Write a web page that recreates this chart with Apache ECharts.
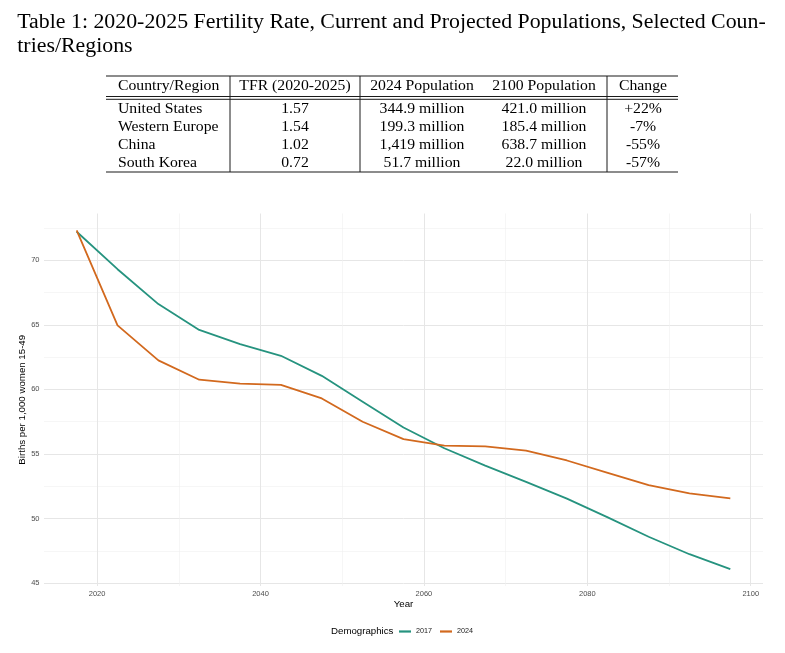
<!DOCTYPE html>
<html><head><meta charset="utf-8">
<script src="https://cdn.jsdelivr.net/npm/echarts@6/dist/echarts.min.js"></script>
<style>html,body{margin:0;padding:0;background:#fff}#c{width:785px;height:653px}</style>
</head><body><div id="c"></div>
<script>
// ---- data ----
const titleLines = ['Table 1: 2020-2025 Fertility Rate, Current and Projected Populations, Selected Coun-', 'tries/Regions'];
const tableHeader = ['Country/Region', 'TFR (2020-2025)', '2024 Population', '2100 Population', 'Change'];
const regions = ['United States', 'Western Europe', 'China', 'South Korea'];
const tfr = ['1.57', '1.54', '1.02', '0.72'];
const pop2024 = ['344.9 million', '199.3 million', '1,419 million', '51.7 million'];
const pop2100 = ['421.0 million', '185.4 million', '638.7 million', '22.0 million'];
const change = ['+22%', '-7%', '-55%', '-57%'];

const years = [2017.5, 2022.5, 2027.5, 2032.5, 2037.5, 2042.5, 2047.5, 2052.5, 2057.5,
               2062.5, 2067.5, 2072.5, 2077.5, 2082.5, 2087.5, 2092.5, 2097.5];
const proj2017 = [72.2, 69.3, 66.6, 64.6, 63.5, 62.6, 61.05, 59.05, 57.05,
                  55.45, 54.1, 52.85, 51.55, 50.1, 48.6, 47.25, 46.1];
const proj2024 = [72.3, 64.95, 62.25, 60.75, 60.45, 60.35, 59.3, 57.5, 56.15,
                  55.65, 55.6, 55.27, 54.5, 53.55, 52.6, 51.96, 51.57];
const seriesNames = ['2017', '2024'];
const legendTitle = 'Demographics';
const xName = 'Year';
const yName = 'Births per 1,000 women 15-49';

// ---- layout / style ----
const SERIF = '"Liberation Serif", "Times New Roman", serif';
const SANS = '"Liberation Sans", Arial, sans-serif';
const colors = ['#26937F', '#D2691E'];
const ctx = document.createElement('canvas').getContext('2d');
function tw(s, size, fam) { ctx.font = size + 'px ' + fam; return ctx.measureText(s).width; }

const titleSize = 20;
const titleScale = 748.4 / tw(titleLines[0], titleSize, SERIF);
const tabSize = 13.6;
const tabScale = 84.3 / tw('United States', tabSize, SERIF);

function txt(s, x, y, size, fam, align, scale, fill) {
  return {
    type: 'text', x: x, y: y, scaleX: scale || 1, silent: true,
    style: {
      text: s, fontSize: size, fontFamily: fam, fill: fill || '#000',
      textAlign: align, textVerticalAlign: 'middle', align: align, verticalAlign: 'middle'
    }
  };
}
function ln(x1, y1, x2, y2, w) {
  return { type: 'line', silent: true, shape: { x1: x1, y1: y1, x2: x2, y2: y2 },
           style: { stroke: '#1a1a1a', lineWidth: w || 1 } };
}

const graphics = [];
graphics.push(txt(titleLines[0], 17.3, 22.5, titleSize, SERIF, 'left', titleScale));
graphics.push(txt(titleLines[1], 17.3, 46.3, titleSize, SERIF, 'left', titleScale));

const colX = [118, 295, 422, 544, 643];
const colAlign = ['left', 'center', 'center', 'center', 'center'];
const headerY = 86.2;
const rowY = [109.2, 127.2, 145.2, 163.2];
tableHeader.forEach((h, j) => graphics.push(txt(h, colX[j], headerY, tabSize, SERIF, colAlign[j], tabScale)));
const cols = [regions, tfr, pop2024, pop2100, change];
cols.forEach((col, j) => col.forEach((v, i) => graphics.push(txt(v, colX[j], rowY[i], tabSize, SERIF, colAlign[j], tabScale))));
const tL = 106, tR = 678, tTop = 76, tBot = 172;
graphics.push(ln(tL, tTop, tR, tTop, 1.2));
graphics.push(ln(tL, 96.5, tR, 96.5, 1));
graphics.push(ln(tL, 99.3, tR, 99.3, 1));
graphics.push(ln(tL, tBot, tR, tBot, 1.2));
[230, 360, 607].forEach(x => graphics.push(ln(x, tTop, x, tBot, 1)));

graphics.push(txt(legendTitle, 331, 631.7, 9.7, SANS, 'left', 1, '#000'));

const expandMin = v => v.min - 0.05 * (v.max - v.min);
const expandMax = v => v.max + 0.05 * (v.max - v.min);
const axisCommon = {
  type: 'value', min: expandMin, max: expandMax, scale: true,
  axisLine: { show: false }, axisTick: { show: false },
  minorTick: { show: false, splitNumber: 2 },
  splitLine: { show: true, showMinLine: false, showMaxLine: false, lineStyle: { color: '#e6e6e6', width: 1 } },
  minorSplitLine: { show: true, lineStyle: { color: '#f0f0f0', width: 0.6 } },
  nameLocation: 'middle', nameMoveOverlap: false,
  nameTextStyle: { color: '#000', fontSize: 9.7, fontFamily: SANS }
};

const chart = echarts.init(document.getElementById('c'), null, { renderer: 'canvas' });
chart.setOption({
  animation: false,
  backgroundColor: '#fff',
  textStyle: { fontFamily: SANS },
  grid: { left: 44, right: 22, top: 213.5, bottom: 67, containLabel: false, outerBoundsMode: 'none' },
  xAxis: Object.assign({}, axisCommon, {
    name: xName, nameGap: 13,
    axisLabel: { color: '#4d4d4d', fontSize: 7.5, margin: 4, fontFamily: SANS,
                 formatter: v => (Math.abs(v % 20) < 1e-9 ? String(v) : '') }
  }),
  yAxis: Object.assign({}, axisCommon, {
    name: yName, nameGap: 17,
    axisLabel: { color: '#4d4d4d', fontSize: 7.5, margin: 4.5, fontFamily: SANS,
                 formatter: v => (Math.abs(v % 5) < 1e-9 ? String(v) : '') }
  }),
  legend: {
    data: seriesNames, left: 394, top: 623, orient: 'horizontal',
    icon: 'rect', itemWidth: 12, itemHeight: 2.2, itemGap: 8,
    textStyle: { fontSize: 7.2, color: '#1a1a1a', fontFamily: SANS }
  },
  series: [proj2017, proj2024].map((vals, k) => ({
    name: seriesNames[k], type: 'line', showSymbol: false, symbol: 'none',
    color: colors[k], lineStyle: { width: 1.8, color: colors[k] },
    data: years.map((y, i) => [y, vals[i]])
  })),
  graphic: { elements: graphics }
});
</script>
</body></html>
